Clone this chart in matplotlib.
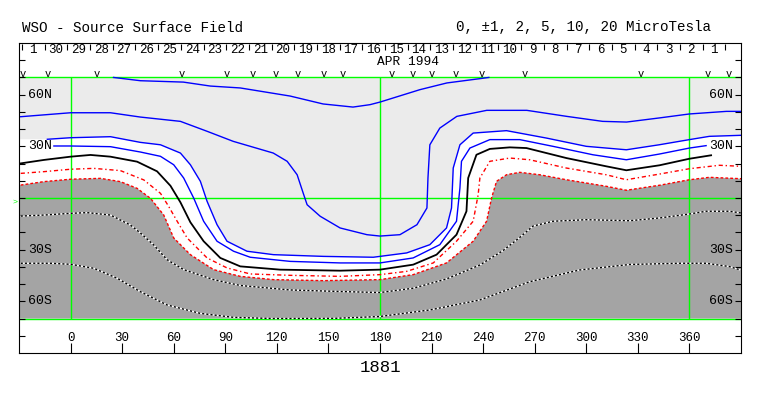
import numpy as np
import matplotlib
matplotlib.use('Agg')
import matplotlib.pyplot as plt
from matplotlib.patches import Polygon, Rectangle

plt.rcParams['font.family'] = ['Liberation Mono', 'DejaVu Sans Mono']

# ---------------- data (Carrington longitude, latitude) ----------------
# +10 uT contour
p10_lon = [25.0, 40.6, 65.6, 81.3, 98.7, 127.7, 146.9, 164.3, 174.2, 180.0, 203.2, 218.9, 238.1, 243.3]
p10_lat = [70.0, 68.1, 67.3, 65.0, 63.9, 59.2, 54.6, 52.8, 54.2, 55.7, 62.9, 66.8, 69.3, 70.0]
# +5 uT contour
p5_lon = [-29.0, 0.0, 23.2, 40.6, 63.9, 79.5, 94.6, 117.9, 126.0, 131.8, 135.3, 137.6, 145.2, 156.8,
          172.4, 180.0, 191.6, 201.5, 207.3, 207.9, 209.0, 214.8, 224.7, 242.1, 265.4, 288.6,
          309.5, 323.4, 342.6, 360.0, 381.5, 390.0]
p5_lat = [47.2, 49.5, 49.5, 47.0, 44.5, 38.7, 32.9, 26.1, 21.3, 13.5, 2.9, -3.9, -10.6, -17.4,
          -21.3, -22.1, -21.3, -15.5, -5.8, 11.6, 30.9, 40.6, 47.4, 50.9, 50.9, 47.4,
          44.5, 44.1, 46.5, 48.8, 50.3, 50.3]
# +2 uT contour
p2_lon = [-13.5, 0.0, 23.2, 40.6, 52.3, 63.9, 69.7, 75.5, 79.4, 85.2, 91.0, 102.6, 118.0, 147.1,
          176.1, 195.5, 209.0, 218.7, 221.6, 222.6, 226.5, 234.2, 253.6, 276.8, 300.0, 323.3,
          342.4, 360.0, 371.6, 390.0]
p2_lat = [34.1, 35.0, 35.6, 32.3, 30.9, 26.1, 19.3, 9.7, -1.9, -15.5, -25.1, -30.9, -32.9, -33.9,
          -34.4, -31.9, -27.1, -17.4, -5.8, 17.4, 30.9, 37.7, 39.1, 34.8, 30.0, 28.0,
          30.9, 33.9, 35.8, 36.4]
# +1 uT contour
p1_lon = [-9.7, 0.0, 23.2, 40.6, 52.3, 60.0, 65.8, 71.6, 77.4, 85.2, 94.8, 104.5, 127.7, 156.8,
          180.0, 199.3, 214.8, 224.5, 226.5, 227.4, 232.3, 243.9, 261.3, 280.6, 303.9, 323.3,
          342.4, 360.0, 369.7]
p1_lat = [30.2, 30.2, 29.8, 26.7, 24.2, 19.3, 11.6, 0.0, -13.5, -25.1, -30.9, -34.4, -36.8, -37.7,
          -37.7, -34.8, -27.1, -13.5, 5.8, 21.3, 29.0, 33.9, 33.9, 30.0, 25.1, 22.2,
          25.5, 29.0, 30.4]
# neutral line (0 uT)
n0_lon = [-29.0, -15.5, 0.0, 11.6, 23.2, 38.7, 50.3, 58.1, 63.9, 69.7, 77.4, 87.1, 98.7, 121.9,
          156.8, 180.0, 199.3, 212.9, 224.5, 230.3, 231.3, 236.1, 243.9, 255.5, 265.2, 288.4,
          311.6, 323.3, 342.6, 360.0, 372.6]
n0_lat = [20.1, 22.1, 24.0, 25.0, 24.0, 21.1, 15.5, 7.1, -2.5, -14.1, -25.1, -34.8, -39.7, -41.6,
          -42.2, -41.6, -38.7, -32.9, -21.3, -7.7, 11.6, 25.1, 28.5, 29.4, 29.0, 23.2,
          18.4, 16.1, 19.0, 22.8, 24.8]
# -1 uT contour
m1_lon = [-29.0, -15.5, 0.0, 13.5, 29.0, 42.6, 52.3, 56.9, 62.0, 67.8, 79.4, 91.0, 104.5, 127.7,
          156.8, 180.0, 195.5, 211.0, 224.5, 234.2, 237.1, 238.1, 243.9, 255.5, 267.1, 288.4,
          311.6, 323.3, 342.6, 360.0, 377.4, 390.0]
m1_lat = [14.3, 15.3, 16.7, 17.2, 15.9, 10.5, 2.7, -4.6, -13.5, -23.2, -34.8, -40.6, -44.1, -44.9,
          -45.5, -44.5, -42.6, -37.7, -25.1, -13.5, 1.9, 11.6, 21.3, 23.2, 22.2, 17.4,
          13.5, 10.6, 13.9, 17.0, 19.0, 18.4]
# -2 uT contour (edge of the negative shading)
m2_lon = [-29.0, -15.5, 0.0, 17.4, 29.0, 38.7, 46.5, 54.2, 60.0, 69.7, 83.2, 98.7, 118.0, 147.1,
          180.0, 199.3, 218.7, 234.2, 242.0, 244.9, 247.8, 253.6, 261.3, 272.9, 288.4, 311.6,
          323.3, 342.6, 360.0, 371.6, 390.0]
m2_lat = [7.5, 9.5, 10.9, 11.4, 9.5, 5.6, -0.2, -9.9, -23.2, -32.9, -41.6, -45.5, -47.4, -48.0,
          -47.4, -44.5, -37.7, -25.1, -13.5, 0.0, 9.7, 13.5, 14.9, 13.5, 10.6, 6.8,
          4.5, 7.4, 10.6, 12.0, 11.2]
# -5 uT contour
m5_lon = [-29.0, -15.5, 0.0, 9.7, 23.2, 34.8, 40.6, 48.4, 56.1, 65.8, 83.2, 98.7, 127.7, 156.8,
          180.0, 199.3, 218.7, 238.1, 251.6, 261.3, 269.0, 280.6, 300.0, 325.2, 342.6, 360.0,
          369.7, 383.2, 390.0]
m5_lat = [-10.5, -9.9, -8.9, -8.5, -9.9, -15.7, -20.3, -27.3, -35.8, -41.6, -47.4, -50.8, -53.4, -54.3,
          -54.9, -52.4, -47.0, -38.9, -30.5, -22.9, -16.3, -13.5, -12.6, -13.2, -11.6, -9.3,
          -7.7, -7.7, -8.7]
# -10 uT contour
m10_lon = [-29.0, -11.6, 0.0, 13.5, 27.1, 40.6, 56.1, 75.5, 94.8, 118.0, 152.9, 180.0, 209.0,
           238.1, 267.1, 296.1, 325.2, 354.2, 369.7, 383.2, 390.0]
m10_lat = [-37.9, -37.9, -38.5, -40.8, -46.6, -54.4, -62.1, -67.0, -69.3, -70.0, -69.9, -68.8, -65.0,
           -59.2, -48.6, -41.8, -38.6, -37.9, -37.9, -39.8, -41.9]

# observation marks ("v") along the top of the map
obs_lons = [-28.0, -13.5, 15.5, 64.9, 90.6, 105.8, 119.2, 132.2, 147.1, 158.4, 186.6, 199.2,
            210.4, 224.0, 239.3, 264.2, 331.9, 370.7, 382.9]

# day-of-month labels in the top strip (left to right)
day_labels = ['1', '30', '29', '28', '27', '26', '25', '24', '23', '22', '21', '20', '19', '18',
              '17', '16', '15', '14', '13', '12', '11', '10', '9', '8', '7', '6', '5', '4', '3',
              '2', '1']
day_edge_first = 380.9          # longitude of the start of April 1
day_width = 360.0 / 27.2753     # Carrington degrees per day

lon_ticks = [0, 30, 60, 90, 120, 150, 180, 210, 240, 270, 300, 330, 360]
lat_label_vals = [60, 30, -30, -60]
lat_label_text = ['60N', '30N', '30S', '60S']

title_left = 'WSO - Source Surface Field'
title_right = '0, ±1, 2, 5, 10, 20 MicroTesla'
month_label = 'APR 1994'
rotation_label = '1881'

# ---------------- styles ----------------
LIGHT = '#ebebeb'
DARK = '#a4a4a4'
GREEN = '#00ff00'
BLUE = '#0000ff'
RED = '#ff0000'
XMIN, XMAX = -30, 390
MAPLAT = 70

fig = plt.figure(figsize=(7.63, 3.96), dpi=100)
ax = fig.add_axes([19 / 763, 43 / 396, 722 / 763, 310 / 396])
ax.set_xlim(XMIN, XMAX)
ax.set_ylim(-90, 90)
ax.set_facecolor('white')


def below(lon, lat):
    lon = np.asarray(lon, float)
    lat = np.asarray(lat, float)
    xs = np.r_[XMIN, lon, XMAX, XMAX, XMIN]
    ys = np.r_[lat[0], lat, lat[-1], -MAPLAT, -MAPLAT]
    return np.column_stack([xs, ys])


# shading
ax.add_patch(Rectangle((XMIN, -MAPLAT), XMAX - XMIN, 2 * MAPLAT, fc=LIGHT, ec='none', zorder=0.2))
ax.add_patch(Polygon(below(p2_lon, p2_lat), closed=True, fc='white', ec='none', zorder=0.3))
ax.add_patch(Polygon(below(m2_lon, m2_lat), closed=True, fc=DARK, ec='none', zorder=0.4))

# green grid
ax.hlines([-MAPLAT, 0, MAPLAT], XMIN, XMAX, colors=GREEN, lw=1.0, zorder=0.8)
ax.vlines([0, 180, 360], -MAPLAT, MAPLAT, colors=GREEN, lw=1.0, zorder=0.8)

# contours
for lon, lat in [(p10_lon, p10_lat), (p5_lon, p5_lat), (p2_lon, p2_lat), (p1_lon, p1_lat)]:
    ax.plot(lon, lat, color=BLUE, lw=1.0, zorder=2, solid_joinstyle='round')
ax.plot(n0_lon, n0_lat, color='black', lw=1.3, zorder=2.1, solid_joinstyle='round')
ax.plot(m1_lon, m1_lat, color=RED, lw=1.0, ls=(0, (3, 2, 1, 2)), zorder=2)
ax.plot(m2_lon, m2_lat, color=RED, lw=1.0, ls=(0, (2, 1.5)), zorder=2)
for lon, lat in [(m5_lon, m5_lat), (m10_lon, m10_lat)]:
    ax.plot(lon, lat, color='white', lw=1.0, zorder=2)
    ax.plot(lon, lat, color='black', lw=1.0, ls=(0, (1.5, 1.5)), zorder=2.05)

# observation marks
for lo in obs_lons:
    ax.text(lo, 70.3, 'v', ha='center', va='baseline', fontsize=7.5, color='black',
            clip_on=False, zorder=3)

# day separators and labels
sep = np.sort(day_edge_first - day_width * np.arange(len(day_labels) + 1))
ax.vlines(sep, 86.0, 89.3, colors='black', lw=0.8, zorder=3)
centers = 0.5 * (sep[:-1] + sep[1:])
for c, lab in zip(centers, day_labels):
    ax.text(c, 86.2, lab, ha='center', va='center', fontsize=9, zorder=3)
ax.text(196, 78.7, month_label, ha='center', va='center', fontsize=9.3, zorder=3)

# axes ticks
ax.set_yticks(np.arange(-80, 81, 10))
ax.tick_params(axis='y', direction='in', length=4.6, width=0.8, left=True, right=True,
               labelleft=False, labelright=False)
ax.set_xticks(lon_ticks)
ax.tick_params(axis='x', direction='in', length=7.2, width=0.8, bottom=True, top=False,
               labelbottom=False)
for s in ax.spines.values():
    s.set_linewidth(0.8)

for v in lon_ticks:
    ax.text(v, -81.3, str(v), ha='center', va='center', fontsize=9, zorder=3)

for v, t in zip(lat_label_vals, lat_label_text):
    ax.text(-24.6, v, t, ha='left', va='center', fontsize=9.5, zorder=3)
    ax.text(385.5, v, t, ha='right', va='center', fontsize=9.5, zorder=3)

ax.text(XMIN - 0.8, -2.5, '>', ha='right', va='center', fontsize=6, color=GREEN, clip_on=False)

# titles
fig.text(22 / 763, 1 - 27.5 / 396, title_left, ha='left', va='center', fontsize=10.3)
fig.text(456 / 763, 1 - 27.5 / 396, title_right, ha='left', va='center', fontsize=10.3)
ax.text(180, -98.5, rotation_label, ha='center', va='center', fontsize=12.5, clip_on=False)

fig.savefig('out.png', dpi=100)
